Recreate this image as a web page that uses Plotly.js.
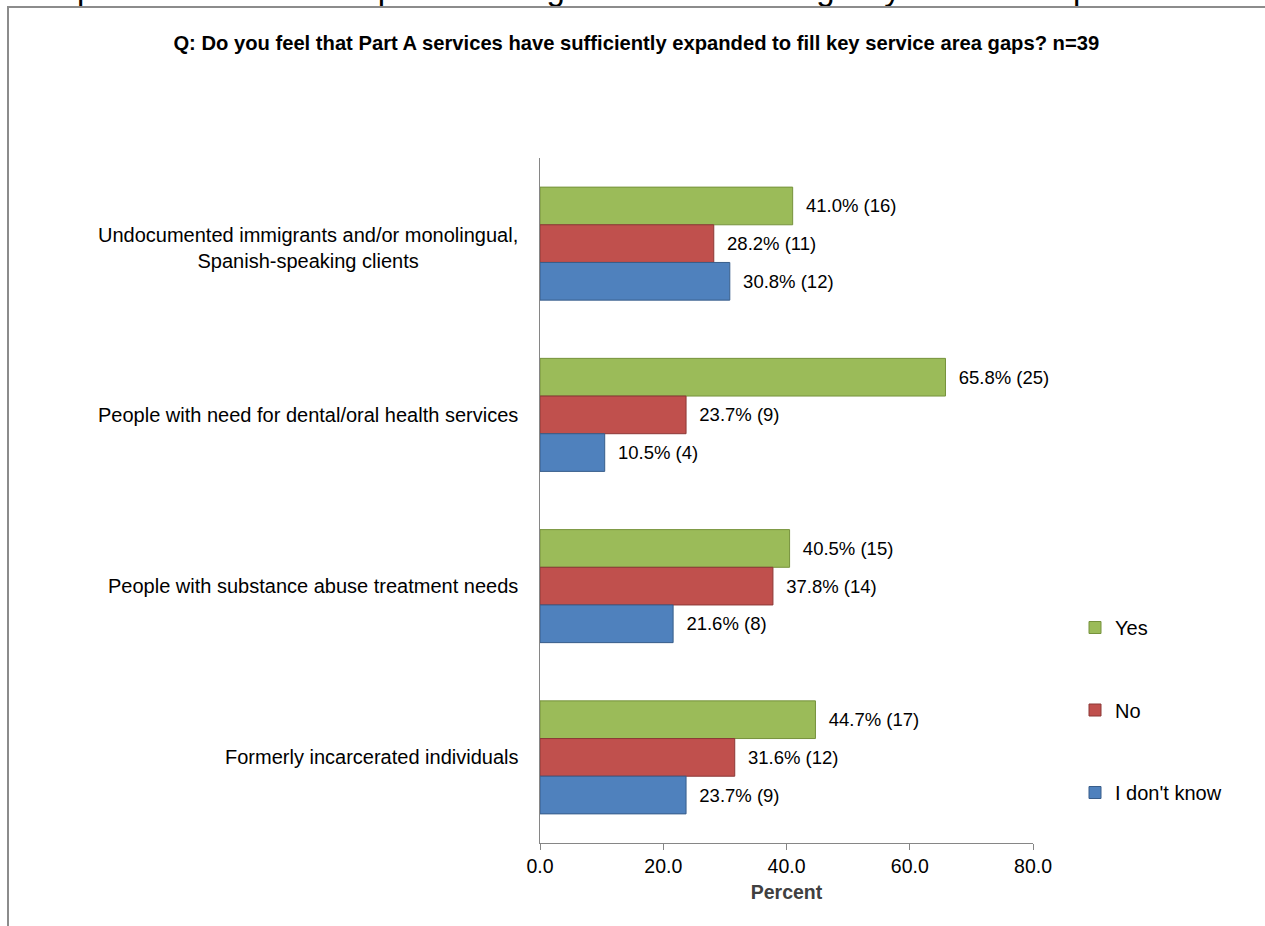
<!DOCTYPE html>
<html>
<head>
<meta charset="utf-8">
<script src="https://cdn.plot.ly/plotly-3.0.1.min.js"></script>
<style>
  html, body { margin: 0; padding: 0; background: #ffffff; }
  #wrap { position: relative; width: 1265px; height: 926px; overflow: hidden; }
  #chart { position: absolute; left: 0; top: 0; width: 1265px; height: 926px; }
  #frame { position: absolute; left: 7px; top: 6px; width: 1300px; height: 1000px;
           border-top: 2px solid #8c8c8c; border-left: 2px solid #8c8c8c; pointer-events: none; }
</style>
</head>
<body>
<div id="wrap">
  <div id="chart"></div>
  <div id="frame"></div>
</div>
<script>
// ---- data ----
const categories = [
  "Undocumented immigrants and/or monolingual,<br>Spanish-speaking clients",
  "People with need for dental/oral health services",
  "People with substance abuse treatment needs",
  "Formerly incarcerated individuals"
];
const seriesNames = ["Yes", "No", "I don't know"];
const yesPct = [41.0, 65.8, 40.5, 44.7];
const yesN   = [16, 25, 15, 17];
const noPct  = [28.2, 23.7, 37.8, 31.6];
const noN    = [11, 9, 14, 12];
const idkPct = [30.8, 10.5, 21.6, 23.7];
const idkN   = [12, 4, 8, 9];
const xTicks = [0, 20, 40, 60, 80];

const chartTitle = "Q: Do you feel that Part A services have sufficiently expanded to fill key service area gaps? n=39";
const pageTitle = "Graph 3: Provider Perception of Progress in Addressing Key Service Gaps";

const colors = ["#9BBB59", "#C0504D", "#4F81BD"];
const lineColors = ["#76923C", "#8C3836", "#385D8A"];
const font = "Arial, 'Liberation Sans', sans-serif";

function labels(p, n) {
  return p.map((v, i) => "\u00a0\u00a0" + v.toFixed(1) + "% (" + n[i] + ")");
}

const pcts = [yesPct, noPct, idkPct];
const ns = [yesN, noN, idkN];
const traces = seriesNames.map((name, k) => ({
  type: "bar",
  orientation: "h",
  name: name,
  x: pcts[k],
  y: categories,
  text: labels(pcts[k], ns[k]),
  textposition: "outside",
  cliponaxis: false,
  textfont: { family: font, size: 18.5, color: "#000000" },
  marker: { color: colors[k], line: { color: lineColors[k], width: 1 } },
  legendgroup: "g" + k,
  hoverinfo: "x+y"
}));

const W = 1265, H = 926;
const mL = 540, mR = W - 1033, mT = 158, mB = H - 843;
const plotH = H - mT - mB, plotW = W - mL - mR;

const annotations = categories.map(c => ({
  xref: "paper", yref: "y", x: 0, y: c, xanchor: "right", yanchor: "middle",
  xshift: -20, yshift: c.indexOf("<br>") >= 0 ? -4 : 0,
  text: c, showarrow: false, align: "center",
  font: { family: font, size: 20, color: "#000000" }
}));

annotations.push({
  xref: "paper", yref: "paper", x: (20 - mL) / plotW, y: (843 - 9) / plotH,
  xanchor: "left", yanchor: "bottom",
  text: pageTitle, showarrow: false,
  font: { family: font, size: 33, color: "#000000" }
});

const layout = {
  width: W, height: H,
  margin: { l: mL, r: mR, t: mT, b: mB, pad: 0 },
  paper_bgcolor: "#ffffff", plot_bgcolor: "#ffffff",
  font: { family: font, size: 19.5, color: "#000000" },
  title: {
    text: "<b>" + chartTitle + "</b>",
    xref: "container", x: 0.503, xanchor: "center",
    yref: "container", y: 1 - 43 / H, yanchor: "middle",
    font: { family: font, size: 20.2, color: "#000000" }
  },
  barmode: "group", bargap: 0.34, bargroupgap: 0,
  xaxis: {
    range: [0, 80], tickvals: xTicks, tickformat: ".1f",
    showgrid: false, zeroline: false,
    showline: true, linecolor: "#868686", linewidth: 1,
    ticks: "outside", ticklen: 6, tickcolor: "#868686",
    tickfont: { family: font, size: 19.5, color: "#000000" },
    title: { text: "<b>Percent</b>", standoff: 8, font: { family: font, size: 19.5, color: "#404040" } }
  },
  yaxis: {
    type: "category", autorange: "reversed",
    showgrid: false, zeroline: false,
    showline: true, linecolor: "#868686", linewidth: 1,
    showticklabels: false, ticks: ""
  },
  legend: {
    x: (1075 - mL) / plotW, xanchor: "left",
    y: (843 - 608) / plotH, yanchor: "top",
    traceorder: "grouped", tracegroupgap: 53.5,
    font: { family: font, size: 20, color: "#000000" },
    bgcolor: "rgba(0,0,0,0)"
  },
  annotations: annotations,
  showlegend: true
};

Plotly.newPlot("chart", traces, layout, { displayModeBar: false, staticPlot: true });
</script>
</body>
</html>
